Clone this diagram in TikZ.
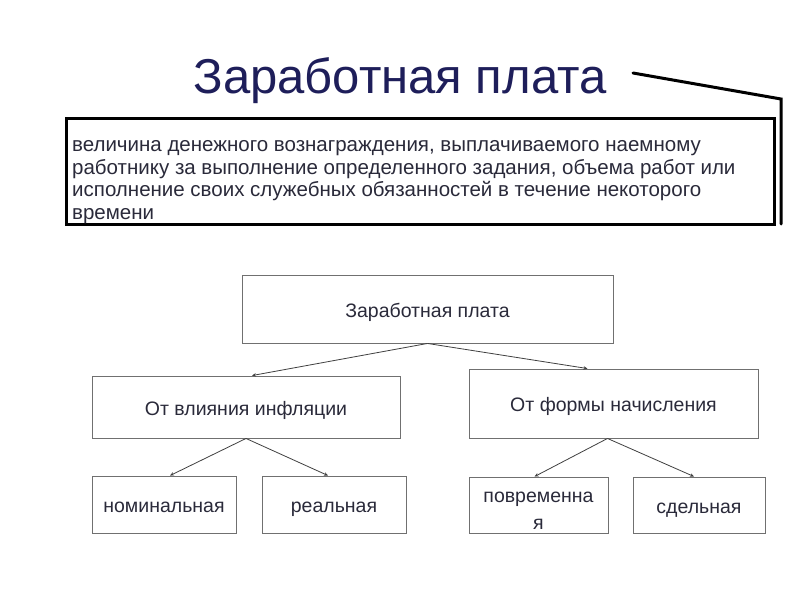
\documentclass[tikz,border=0pt]{standalone}
\usepackage{fontspec}
\setmainfont{Liberation Sans}
\usetikzlibrary{arrows.meta}
\definecolor{titlecol}{HTML}{1E1E5A}
\definecolor{txtcol}{HTML}{2A2A3A}
\definecolor{boxline}{HTML}{707070}
\tikzset{
  box/.style={draw=boxline, line width=0.9pt, fill=white, text=txtcol, align=center, font=\fontsize{19.5}{23}\selectfont, text height=17pt, text depth=1pt},
  defline/.style={anchor=base west, text=txtcol, font=\fontsize{20.5}{23}\selectfont, inner sep=0pt},
  conn/.style={draw=black!75, line width=0.8pt, -{Stealth[length=4pt,width=3.5pt]}}
}
\begin{document}
\begin{tikzpicture}[x=1pt,y=-1pt]
\useasboundingbox[fill=white] (0,0) rectangle (800,600);
% title
\node[anchor=base, text=titlecol, font=\fontsize{49}{54}\selectfont] (title) at (400,93) {Заработная плата};
\coordinate (t1) at (633,73);
\coordinate (t2) at (781,99);
\coordinate (t3) at (781,224);
\draw[line width=3pt, line cap=round, line join=miter] (t1) -- (t2) -- (t3);
% definition box
\node[draw=black, line width=2.5pt, minimum width=708pt, minimum height=106pt, anchor=north west, inner sep=0pt] (defbox) at (65,117) {};
\node[defline] (d1) at (72,151.5) {величина денежного вознаграждения, выплачиваемого наемному};
\node[defline] (d2) at (72,174) {работнику за выполнение определенного задания, объема работ или};
\node[defline] (d3) at (72,196.5) {исполнение своих служебных обязанностей в течение некоторого};
\node[defline] (d4) at (72,219) {времени};
% tree
\node[box, minimum width=371pt, minimum height=68pt] (zp) at (427.5,309) {Заработная плата};
\node[box, minimum width=308pt, minimum height=62pt] (infl) at (246,407) {От влияния инфляции};
\node[box, minimum width=289pt, minimum height=69pt] (forma) at (613.5,403.5) {От формы начисления};
\node[box, minimum width=144pt, minimum height=57pt] (nom) at (164,504.5) {номинальная};
\node[box, minimum width=144pt, minimum height=57pt] (real) at (334,504.5) {реальная};
\node[box, minimum width=139pt, minimum height=56pt, font=\fontsize{19.5}{27}\selectfont, text height=, text depth=] (povr) at (538.5,505) {\rule{0pt}{21pt}повременна\\я};
\node[box, minimum width=132pt, minimum height=56pt] (sdel) at (699,505) {сдельная};
% connectors
\draw[conn] (zp.south) -- ([xshift=6pt]infl.north);
\draw[conn] (zp.south) -- ([xshift=-26pt]forma.north);
\draw[conn] (infl.south) -- ([xshift=6pt]nom.north);
\draw[conn] (infl.south) -- ([xshift=-6pt]real.north);
\draw[conn] ([xshift=-6pt]forma.south) -- ([xshift=-4pt]povr.north);
\draw[conn] ([xshift=-6pt]forma.south) -- ([xshift=-5pt]sdel.north);
\end{tikzpicture}
\end{document}
